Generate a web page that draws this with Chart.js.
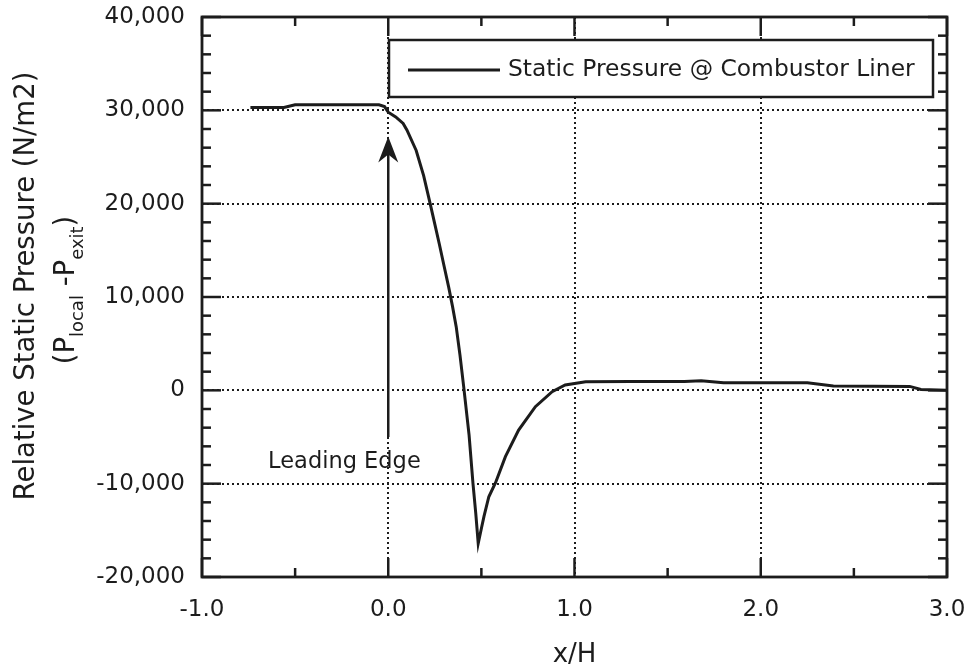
<!DOCTYPE html>
<html>
<head>
<meta charset="utf-8">
<script src="https://cdn.jsdelivr.net/npm/chart.js@4.4.1/dist/chart.umd.min.js"></script>
<style>
  html, body { margin: 0; padding: 0; background: #fff; }
  #wrap { width: 976px; height: 670px; }
</style>
</head>
<body>
<div id="wrap"><canvas id="pressureChart" width="976" height="670"></canvas></div>
<script>
// Values: x/H against P_local - P_exit (N/m2)
const xH = [-0.74, -0.56, -0.50, -0.30, -0.05, -0.02, 0.00, 0.04, 0.08, 0.10, 0.15, 0.19,
  0.225, 0.25, 0.275, 0.30, 0.325, 0.345, 0.365, 0.385, 0.405, 0.434, 0.455, 0.47, 0.483,
  0.50, 0.514, 0.54, 0.576, 0.629, 0.70, 0.79, 0.88, 0.95, 1.06, 1.30, 1.59, 1.68, 1.80,
  2.00, 2.25, 2.39, 2.60, 2.80, 2.86, 3.00];
const pressure = [30300, 30300, 30600, 30600, 30600, 30400, 29800, 29300, 28600, 27900, 25700, 23000,
  20000, 17800, 15600, 13300, 11000, 9000, 6800, 3800, 400, -4800, -10000, -13200, -16400,
  -14800, -13500, -11400, -9900, -7100, -4250, -1750, -150, 570, 920, 950, 950, 1030, 800,
  800, 800, 460, 450, 420, 100, 0];

const xTicks = [-1, 0, 1, 2, 3];
const yTicks = [-20000, -10000, 0, 10000, 20000, 30000, 40000];
const xMinorStep = 0.5;
const yMinorStep = 2000;

const legendLabel = 'Static Pressure @ Combustor Liner';
const noteLabel = 'Leading Edge';

const ink = '#1c1c1c';
const font = "'DejaVu Sans', sans-serif";

function strokeLine(ctx, x1, y1, x2, y2) {
  ctx.beginPath();
  ctx.moveTo(x1, y1);
  ctx.lineTo(x2, y2);
  ctx.stroke();
}

// text with subscripts, centred on (0, 0) of the current transform
function drawRich(ctx, parts) {
  let total = 0;
  parts.forEach(p => {
    ctx.font = p.size + 'px ' + font;
    p.w = ctx.measureText(p.t).width;
    total += p.w;
  });
  let cx = -total / 2;
  parts.forEach(p => {
    ctx.font = p.size + 'px ' + font;
    ctx.fillText(p.t, cx, p.dy || 0);
    cx += p.w;
  });
}

const decorations = {
  id: 'decorations',
  afterDatasetsDraw(chart) {
    const { ctx, chartArea: a, scales: { x, y } } = chart;
    ctx.save();
    ctx.strokeStyle = ink;
    ctx.fillStyle = ink;

    // legend box
    ctx.lineWidth = 2.5;
    ctx.fillStyle = '#fff';
    ctx.fillRect(389, 40, 544, 57);
    ctx.strokeRect(389, 40, 544, 57);
    ctx.fillStyle = ink;
    ctx.lineWidth = 3;
    strokeLine(ctx, 408, 70, 500, 70);
    ctx.font = '23.4px ' + font;
    ctx.textAlign = 'left';
    ctx.textBaseline = 'middle';
    ctx.fillText(legendLabel, 508, 70);

    // leading edge arrow
    const ax = x.getPixelForValue(0);
    const tip = y.getPixelForValue(27200);
    const tail = y.getPixelForValue(-5000);
    ctx.lineWidth = 2.5;
    strokeLine(ctx, ax, tail, ax, tip + 6);
    ctx.beginPath();
    ctx.moveTo(ax, tip);
    ctx.lineTo(ax - 10, tip + 26);
    ctx.lineTo(ax, tip + 18);
    ctx.lineTo(ax + 10, tip + 26);
    ctx.closePath();
    ctx.fill();
    ctx.font = '22.5px ' + font;
    ctx.textBaseline = 'alphabetic';
    ctx.fillText(noteLabel, x.getPixelForValue(-0.645), y.getPixelForValue(-8300));

    // inward ticks on all four sides
    ctx.lineWidth = 2.5;
    const yMin = yTicks[0], yMax = yTicks[yTicks.length - 1];
    for (let i = 0; yMin + i * yMinorStep <= yMax; i++) {
      const v = yMin + i * yMinorStep;
      const py = y.getPixelForValue(v);
      const len = yTicks.includes(v) ? 19 : 9;
      strokeLine(ctx, a.left, py, a.left + len, py);
      strokeLine(ctx, a.right, py, a.right - len, py);
    }
    const xMin = xTicks[0], xMax = xTicks[xTicks.length - 1];
    for (let i = 0; xMin + i * xMinorStep <= xMax; i++) {
      const v = xMin + i * xMinorStep;
      const px = x.getPixelForValue(v);
      const len = xTicks.includes(v) ? 19 : 9;
      strokeLine(ctx, px, a.bottom, px, a.bottom - len);
      strokeLine(ctx, px, a.top, px, a.top + len);
    }

    // frame
    ctx.lineWidth = 2.8;
    ctx.strokeRect(a.left, a.top, a.right - a.left, a.bottom - a.top);

    // axis titles
    ctx.textAlign = 'center';
    ctx.textBaseline = 'middle';
    ctx.font = '26px ' + font;
    ctx.fillText('x/H', (a.left + a.right) / 2, 655);

    ctx.textBaseline = 'alphabetic';
    ctx.save();
    ctx.translate(34, 286);
    ctx.rotate(-Math.PI / 2);
    ctx.font = '27.5px ' + font;
    ctx.fillText('Relative Static Pressure (N/m2)', 0, 0);
    ctx.restore();

    ctx.save();
    ctx.translate(74, 290);
    ctx.rotate(-Math.PI / 2);
    ctx.textAlign = 'left';
    drawRich(ctx, [
      { t: '(P', size: 27.5 },
      { t: 'local', size: 18, dy: 9 },
      { t: ' -P', size: 27.5 },
      { t: 'exit', size: 18, dy: 9 },
      { t: ')', size: 27.5 }
    ]);
    ctx.restore();

    ctx.restore();
  }
};

const edgeGrid = (ctx) => {
  const s = ctx.scale;
  return (ctx.tick.value === s.min || ctx.tick.value === s.max) ? 'rgba(0,0,0,0)' : ink;
};

new Chart(document.getElementById('pressureChart'), {
  type: 'line',
  data: {
    datasets: [{
      label: legendLabel,
      data: xH.map((v, i) => ({ x: v, y: pressure[i] })),
      borderColor: ink,
      borderWidth: 3,
      pointRadius: 0,
      tension: 0,
      fill: false
    }]
  },
  options: {
    responsive: false,
    animation: false,
    layout: { padding: { top: 17, right: 29, left: 0, bottom: 0 } },
    plugins: {
      legend: { display: false },
      tooltip: { enabled: false }
    },
    scales: {
      x: {
        type: 'linear',
        min: xTicks[0],
        max: xTicks[xTicks.length - 1],
        afterFit: s => {
          s.height = 93;
          s.paddingLeft = 0;
          s.paddingRight = 0;
        },
        grid: { color: edgeGrid, lineWidth: 2, drawTicks: false },
        border: { display: false, dash: [2, 3] },
        ticks: {
          stepSize: 1,
          padding: 19,
          color: ink,
          font: { family: font, size: 23 },
          maxRotation: 0,
          callback: v => Number(v).toFixed(1)
        }
      },
      y: {
        min: yTicks[0],
        max: yTicks[yTicks.length - 1],
        afterFit: s => {
          s.width = 202;
          s.paddingTop = 0;
          s.paddingBottom = 0;
        },
        grid: { color: edgeGrid, lineWidth: 2, drawTicks: false },
        border: { display: false, dash: [2, 3] },
        ticks: {
          stepSize: 10000,
          padding: 17,
          color: ink,
          font: { family: font, size: 23 },
          callback: v => Number(v).toLocaleString('en-US')
        }
      }
    }
  },
  plugins: [decorations]
});
</script>
</body>
</html>
